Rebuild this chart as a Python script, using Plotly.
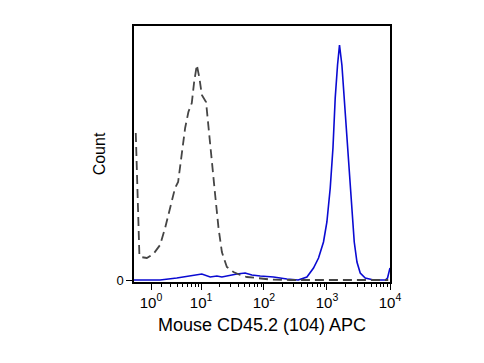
import numpy as np
import plotly.graph_objects as go

# Fluorescence intensity (APC) and event counts
isotype_fl = [-0.15, -0.03, 0.04, 0.115, 0.22, 0.67, 1.20, 1.81, 2.34, 2.94, 3.64, 4.13, 4.79,
              5.45, 6.18, 7.04, 7.69, 8.51, 9.38, 10.26, 12.0, 13.1, 14.9, 16.8, 19.0, 21.5,
              25.8, 32.9, 42.0, 53.6, 77.3, 126, 261, 542, 1127, 2339, 4864, 9376]
isotype_count = [147, 98, 65, 25, 23, 22, 26, 35, 52, 72, 92, 98, 125,
                 152, 168, 177, 198, 215, 202, 185, 178, 152, 118, 85, 52, 28,
                 13, 8, 5, 3, 2, 0.5, 0, 0, 0.5, 0, 0, 0]

stained_fl = [-0.28, 1.81, 3.91, 6.6, 10.26, 14.0, 17.9, 21.5, 29.1, 37.2, 50.4, 64.4, 87.3,
              142, 231, 350, 481, 612, 735, 881, 998, 1127, 1245, 1352, 1472, 1581, 1726,
              1879, 2075, 2280, 2489, 2710, 2992, 3373, 4046, 5483, 8414, 9141, 10000]
stained_count = [0, 0, 2, 4, 6, 3, 4, 3, 5, 6, 7, 5, 4,
                 3, 1, 0, 3, 12, 22, 38, 58, 92, 132, 182, 215, 235, 215,
                 182, 148, 115, 72, 38, 18, 7, 2, 0, 0, 2, 12]

major_ticks = [1, 10, 100, 1000, 10000]
major_labels = ["10<sup>0</sup>", "10<sup>1</sup>", "10<sup>2</sup>", "10<sup>3</sup>", "10<sup>4</sup>"]
x_range_fl = [-0.28, 10000]
y_range = [-2, 254]


def biex(v):
    v = np.asarray(v, dtype=float)
    return np.arcsinh(v / 2.0) / np.log(10)


minor_ticks = [k * 10 ** d for d in range(0, 4) for k in range(2, 10)]

fig = go.Figure()
fig.add_trace(go.Scatter(x=biex(stained_fl), y=stained_count, mode="lines",
                         line=dict(color="#0a0ad2", width=1.6), showlegend=False))
fig.add_trace(go.Scatter(x=biex(isotype_fl), y=isotype_count, mode="lines",
                         line=dict(color="#454545", width=1.8, dash="9px,5px"), showlegend=False))

font = "Arial, Liberation Sans, sans-serif"
fig.update_layout(
    width=468, height=347,
    margin=dict(l=126, r=86, t=18, b=73),
    paper_bgcolor="white", plot_bgcolor="white",
    font=dict(family=font, color="black", size=14),
    xaxis=dict(
        range=list(biex(x_range_fl)), showgrid=False, zeroline=False,
        showline=True, linecolor="black", linewidth=1.5, mirror=True,
        tickmode="array", tickvals=list(biex(major_ticks)), ticktext=major_labels,
        ticks="outside", ticklen=6, tickwidth=1, tickcolor="black",
        tickfont=dict(size=15),
        minor=dict(tickmode="array", tickvals=list(biex(minor_ticks)), ticks="outside",
                   ticklen=3, tickwidth=1, tickcolor="black", showgrid=False),
        title=dict(text="Mouse CD45.2 (104) APC", font=dict(size=18), standoff=9),
    ),
    yaxis=dict(
        range=y_range, showgrid=False, zeroline=False,
        showline=True, linecolor="black", linewidth=1.5, mirror=True,
        tickmode="array", tickvals=[0], ticktext=["0"],
        ticks="outside", ticklen=6, tickwidth=1, tickcolor="black",
        tickfont=dict(size=13),
        title=dict(text="Count", font=dict(size=16), standoff=7),
    ),
)

fig.write_html("out.html")
